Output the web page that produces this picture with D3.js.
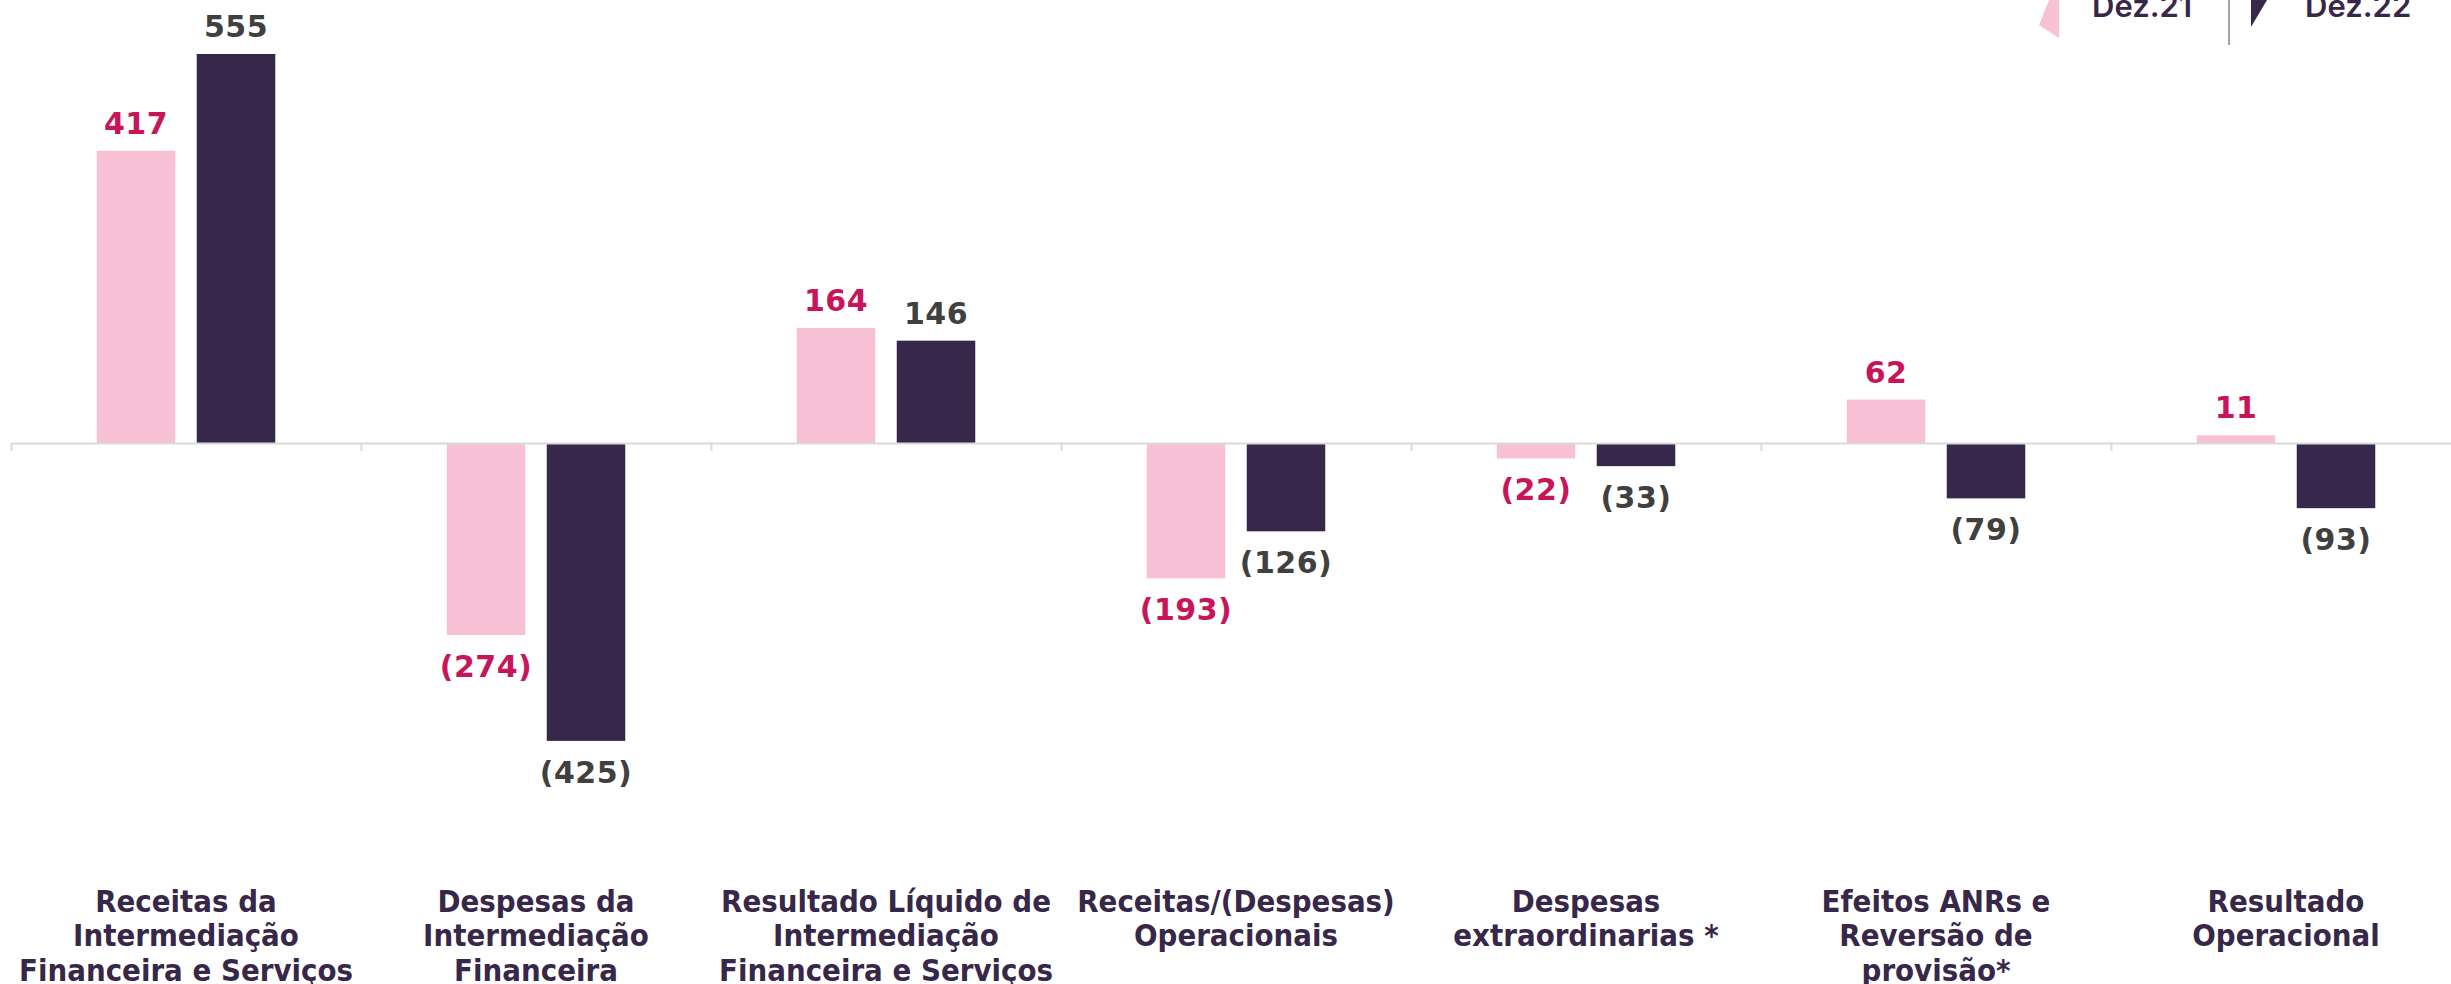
<!DOCTYPE html>
<html>
<head>
<meta charset="utf-8">
<script src="https://cdn.jsdelivr.net/npm/d3@7"></script>
<style>
  body { margin: 0; background: #fff; }
  svg { display: block; }
  .valueText { font-family: "DejaVu Sans", Verdana, sans-serif; font-weight: bold; font-size: 30px; letter-spacing: 0.5px; }
  .catText { font-family: "DejaVu Sans", Verdana, sans-serif; font-weight: bold; font-size: 30px; fill: #372749; }
  .legendText { font-family: Inter, "Open Sans", sans-serif; font-weight: 600; font-size: 31px; fill: #372749; }
</style>
</head>
<body>
<div id="chart"></div>
<script>
// chart values
var categories = [
  "Receitas da|Intermediação|Financeira e Serviços",
  "Despesas da|Intermediação|Financeira",
  "Resultado Líquido de|Intermediação|Financeira e Serviços",
  "Receitas/(Despesas)|Operacionais",
  "Despesas|extraordinarias *",
  "Efeitos ANRs e|Reversão de|provisão*",
  "Resultado|Operacional"
];
var seriesNames = ["Dez.21", "Dez.22"];
var dez21 = [417, -274, 164, -193, -22, 62, 11];
var dez22 = [555, -425, 146, -126, -33, -79, -93];

var svgWidth = 2451;
var svgHeight = 984;

var barColors = { "Dez.21": "#f8c0d5", "Dez.22": "#37274b" };
var labelColors = { "Dez.21": "#c8155a", "Dez.22": "#404040" };

var svg = d3.select("#chart")
  .append("svg")
  .attr("width", svgWidth)
  .attr("height", svgHeight);

// build rows from the arrays
var rows = categories.map(function (c, i) {
  return { cat: c, values: [
    { name: "Dez.21", value: dez21[i] },
    { name: "Dez.22", value: dez22[i] }
  ] };
});

// scales
var x0 = d3.scaleBand()
  .domain(categories)
  .range([11, 11 + 350 * categories.length])
  .padding(0);

var x1 = d3.scaleBand()
  .domain(seriesNames)
  .range([x0.bandwidth() / 2 - 89.25, x0.bandwidth() / 2 + 89.25])
  .paddingInner(0.215);

var y = d3.scaleLinear()
  .domain([0, 555])
  .range([443, 54]);

// bars
var groups = svg.selectAll("g.cat")
  .data(rows)
  .enter()
  .append("g")
  .attr("class", "cat")
  .attr("transform", d => `translate(${x0(d.cat)},0)`);

groups.selectAll("rect")
  .data(d => d.values)
  .enter()
  .append("rect")
  .attr("x", d => x1(d.name))
  .attr("width", x1.bandwidth())
  .attr("y", d => y(Math.max(0, d.value)))
  .attr("height", d => Math.abs(y(d.value) - y(0)))
  .attr("fill", d => barColors[d.name]);

// value labels
groups.selectAll("text.valueText")
  .data(d => d.values)
  .enter()
  .append("text")
  .attr("class", "valueText")
  .attr("text-anchor", "middle")
  .attr("x", d => x1(d.name) + x1.bandwidth() / 2)
  .attr("y", d => d.value >= 0 ? y(d.value) - 17 : y(d.value) + 42)
  .attr("fill", d => labelColors[d.name])
  .text(d => d.value < 0 ? "(" + Math.abs(d.value) + ")" : d.value);

// zero line with ticks between the categories
var xEdge = d3.scaleLinear()
  .domain([0, categories.length])
  .range(x0.range());

var axis = svg.append("g")
  .attr("transform", `translate(0, ${y(0)})`)
  .call(d3.axisBottom(xEdge)
    .tickValues(d3.range(0, categories.length + 1))
    .tickSize(8)
    .tickSizeOuter(0)
    .tickFormat(""));
axis.selectAll("path, line")
  .attr("stroke", "#d9d9d9")
  .attr("stroke-width", 2);

// category labels
var catText = svg.selectAll("text.catText")
  .data(categories)
  .enter()
  .append("text")
  .attr("class", "catText")
  .attr("text-anchor", "middle")
  .attr("transform", d => `translate(${x0(d) + x0.bandwidth() / 2}, 912) scale(0.925, 1)`);

catText.selectAll("tspan")
  .data(d => d.split("|"))
  .enter()
  .append("tspan")
  .attr("x", 0)
  .attr("dy", (d, i) => i === 0 ? 0 : 34.4)
  .text(d => d);

// legend (cut off at the top of the picture)
var legend = svg.append("g").attr("class", "legend");
legend.append("polygon")
  .attr("points", "2049,0 2059,0 2059,38 2039,25")
  .attr("fill", barColors["Dez.21"]);
legend.append("polygon")
  .attr("points", "2251,0 2267,0 2251,27")
  .attr("fill", barColors["Dez.22"]);
legend.append("line")
  .attr("x1", 2229).attr("x2", 2229)
  .attr("y1", 0).attr("y2", 45)
  .attr("stroke", "#a99fb5")
  .attr("stroke-width", 2);
legend.selectAll("text.legendText")
  .data(seriesNames)
  .enter()
  .append("text")
  .attr("class", "legendText")
  .attr("x", (d, i) => i === 0 ? 2092 : 2305)
  .attr("y", 17)
  .text(d => d);
</script>
</body>
</html>
